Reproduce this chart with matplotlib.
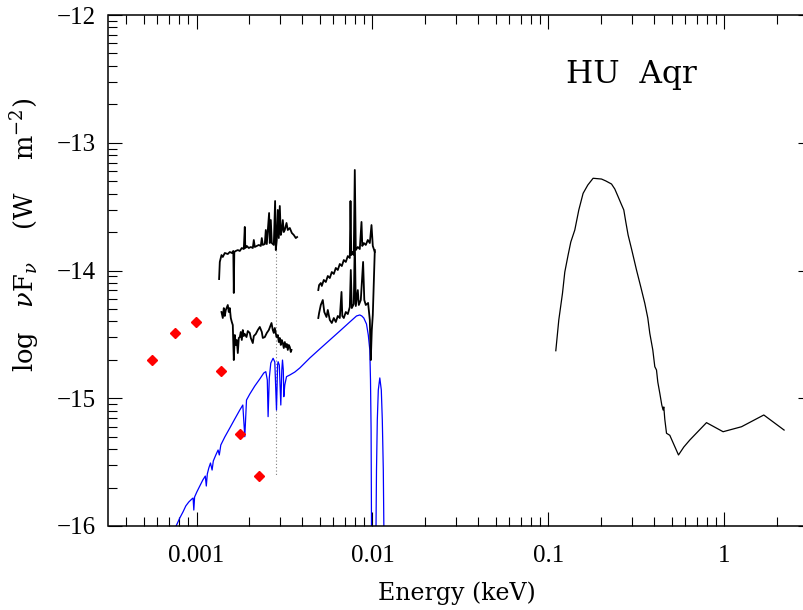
import numpy as np
import matplotlib.pyplot as plt
from matplotlib.ticker import FixedLocator, NullFormatter

plt.rcParams['font.family'] = 'Liberation Serif'
plt.rcParams['mathtext.fontset'] = 'dejavuserif'

# optical photometry (red diamonds): energy in keV, log nuFnu
phot_E = [5.62e-4, 7.53e-4, 9.91e-4, 1.380e-3, 1.769e-3, 2.26e-3]
phot_F = [-14.70, -14.49, -14.40, -14.79, -15.28, -15.61]

# optical spectrum, bright state (log10 E, log nuFnu)
opt_hi_logE = [-2.8716, -2.8676, -2.8580, -2.8506, -2.8392, -2.8222, -2.8108, -2.7994, -2.7909,
               -2.7881, -2.7852, -2.7767, -2.7653, -2.7540, -2.7426, -2.7313, -2.7256, -2.7227,
               -2.7142, -2.7028, -2.6915, -2.6801, -2.6744, -2.6688, -2.6574, -2.6460, -2.6347,
               -2.6290, -2.6233, -2.6119, -2.6063, -2.6006, -2.5875, -2.5835, -2.5778, -2.5722,
               -2.5608, -2.5534, -2.5494, -2.5438, -2.5381, -2.5324, -2.5267, -2.5210, -2.5153,
               -2.5097, -2.5040, -2.4983, -2.4886, -2.4813, -2.4699, -2.4585, -2.4472, -2.4358,
               -2.4284]
opt_hi_F = [-14.067, -13.933, -13.879, -13.894, -13.863, -13.871, -13.855, -13.863, -13.847,
            -14.176, -13.855, -13.847, -13.840, -13.847, -13.824, -13.832, -13.659, -13.824,
            -13.808, -13.824, -13.816, -13.824, -13.761, -13.816, -13.808, -13.800, -13.808,
            -13.746, -13.800, -13.793, -13.683, -13.793, -13.550, -13.785, -13.605, -13.785,
            -13.800, -13.456, -13.840, -13.761, -13.526, -13.746, -13.495, -13.722, -13.683,
            -13.605, -13.699, -13.683, -13.628, -13.683, -13.667, -13.706, -13.722, -13.746,
            -13.738]

# optical spectrum, faint state
opt_lo_logE = [-2.8580, -2.8506, -2.8449, -2.8392, -2.8335, -2.8222, -2.8165, -2.8108, -2.8051,
               -2.7994, -2.7938, -2.7881, -2.7824, -2.7767, -2.7710, -2.7653, -2.7597, -2.7540,
               -2.7483, -2.7426, -2.7369, -2.7313, -2.7256, -2.7159, -2.7085, -2.6972, -2.6915,
               -2.6801, -2.6744, -2.6631, -2.6517, -2.6403, -2.6290, -2.6233, -2.6119, -2.6006,
               -2.5892, -2.5739, -2.5665, -2.5608, -2.5551, -2.5455, -2.5381, -2.5324, -2.5267,
               -2.5210, -2.5153, -2.5097, -2.5040, -2.4983, -2.4926, -2.4869, -2.4813, -2.4756,
               -2.4699, -2.4642, -2.4602]
opt_lo_F = [-14.325, -14.372, -14.294, -14.356, -14.309, -14.270, -14.325, -14.294, -14.372,
            -14.403, -14.427, -14.701, -14.505, -14.583, -14.544, -14.646, -14.528, -14.521,
            -14.481, -14.544, -14.466, -14.513, -14.497, -14.521, -14.474, -14.489, -14.528,
            -14.568, -14.513, -14.497, -14.466, -14.442, -14.481, -14.528, -14.521, -14.489,
            -14.466, -14.411, -14.466, -14.489, -14.450, -14.521, -14.505, -14.560, -14.528,
            -14.583, -14.544, -14.568, -14.607, -14.560, -14.599, -14.575, -14.622, -14.583,
            -14.599, -14.638, -14.622]

# gap marker between the two optical arms
gap_logE = [-2.5494, -2.5494]
gap_F = [-13.84, -15.60]

# UV spectrum, bright state
uv_hi_logE = [-2.3080, -2.3034, -2.2938, -2.2881, -2.2767, -2.2653, -2.2540, -2.2426, -2.2313,
              -2.2199, -2.2085, -2.1972, -2.1858, -2.1744, -2.1631, -2.1517, -2.1403, -2.1290,
              -2.1250, -2.1205, -2.1119, -2.1063, -2.1006, -2.0949, -2.0835, -2.0722, -2.0625,
              -2.0580, -2.0494, -2.0381, -2.0267, -2.0153, -2.0057, -1.9983, -1.9869]
uv_hi_F = [-14.153, -14.114, -14.098, -14.121, -14.074, -14.090, -14.043, -14.059, -14.012,
           -14.027, -13.980, -13.996, -13.949, -13.965, -13.918, -13.933, -13.887, -13.902,
           -13.456, -13.879, -13.855, -13.879, -13.213, -13.840, -13.816, -13.832, -13.620,
           -13.808, -13.785, -13.800, -13.761, -13.785, -13.644, -13.808, -13.855]

# UV spectrum, faint state
uv_lo_logE = [-2.3080, -2.3034, -2.2938, -2.2824, -2.2739, -2.2614, -2.2540, -2.2426, -2.2313,
              -2.2199, -2.2085, -2.1972, -2.1858, -2.1761, -2.1716, -2.1631, -2.1517, -2.1403,
              -2.1290, -2.1233, -2.1176, -2.1063, -2.1006, -2.0949, -2.0835, -2.0778, -2.0665,
              -2.0534, -2.0466, -2.0381, -2.0250, -2.0153, -2.0097, -2.0040, -1.9983, -1.9869]
uv_lo_F = [-14.372, -14.333, -14.270, -14.231, -14.325, -14.364, -14.309, -14.387, -14.411,
           -14.372, -14.403, -14.356, -14.372, -14.168, -14.356, -14.372, -14.325, -14.341,
           -14.286, -13.996, -14.294, -14.262, -13.761, -14.278, -14.153, -14.270, -14.231,
           -13.933, -14.231, -14.270, -14.254, -14.387, -14.701, -14.466, -14.348, -13.840]

# white dwarf model (blue)
wd_logE = [-3.1290, -3.1176, -3.0949, -3.0761, -3.0608, -3.0438, -3.0267, -3.0193, -3.0153,
           -3.0108, -2.9983, -2.9813, -2.9642, -2.9500, -2.9443, -2.9386, -2.9301, -2.9205,
           -2.9114, -2.9045, -2.8903, -2.8773, -2.8705, -2.8619, -2.8392, -2.8108, -2.7824,
           -2.7540, -2.7369, -2.7256, -2.7159, -2.6972, -2.6688, -2.6403, -2.6176, -2.6063,
           -2.5977, -2.5932, -2.5864, -2.5778, -2.5648, -2.5551, -2.5455, -2.5392, -2.5364,
           -2.5295, -2.5210, -2.5153, -2.5114, -2.5068, -2.5040, -2.4983, -2.4886, -2.4699,
           -2.4415, -2.4131, -2.3563, -2.2994, -2.2426, -2.1858, -2.1290, -2.0909, -2.0722,
           -2.0608, -2.0494, -2.0341, -2.0239, -2.0153, -2.0114, -2.0080, -2.0051, -1.9812,
           -1.9773, -1.9727, -1.9670, -1.9585, -1.9500, -1.9443, -1.9386, -1.9341]
wd_F = [-16.047, -16.005, -15.937, -15.888, -15.843, -15.812, -15.789, -15.781, -15.875,
        -15.773, -15.734, -15.687, -15.640, -15.609, -15.687, -15.593, -15.546, -15.507,
        -15.562, -15.491, -15.444, -15.405, -15.444, -15.366, -15.303, -15.233, -15.162,
        -15.092, -15.053, -15.301, -15.014, -14.967, -14.904, -14.849, -14.802, -14.792,
        -14.857, -15.144, -14.841, -14.724, -14.687, -14.716, -15.092, -14.740, -14.714,
        -14.740, -15.053, -14.779, -14.701, -14.779, -14.988, -14.896, -14.831, -14.818,
        -14.795, -14.763, -14.685, -14.614, -14.544, -14.474, -14.403, -14.356, -14.348,
        -14.356, -14.372, -14.419, -14.505, -14.622, -14.857, -15.249, -16.2, -16.2,
        -15.562, -15.170, -14.935, -14.841, -14.935, -15.170, -15.562, -16.2]

# X-ray / EUV spectrum
xr_logE = [-0.9585, -0.9415, -0.9205, -0.9074, -0.8886, -0.8733, -0.8506, -0.8278, -0.8034,
           -0.7767, -0.7466, -0.6989, -0.6744, -0.6420, -0.6233, -0.6045, -0.5892, -0.5722,
           -0.5608, -0.5477, -0.5267, -0.5000, -0.4756, -0.4528, -0.4358, -0.4244, -0.4074,
           -0.3960, -0.3864, -0.3790, -0.3676, -0.3563, -0.3489, -0.3449, -0.3392, -0.3295,
           -0.3108, -0.2614, -0.2313, -0.1972, -0.1023, -0.0080, 0.0966, 0.2233, 0.3386]
xr_F = [-14.628, -14.387, -14.178, -14.012, -13.879, -13.777, -13.683, -13.526, -13.396,
        -13.331, -13.278, -13.284, -13.299, -13.323, -13.362, -13.422, -13.472, -13.526,
        -13.620, -13.722, -13.840, -13.996, -14.129, -14.257, -14.372, -14.492, -14.622,
        -14.753, -14.779, -14.873, -14.961, -15.053, -15.092, -15.068, -15.165, -15.274,
        -15.290, -15.444, -15.382, -15.327, -15.191, -15.262, -15.223, -15.131, -15.249]

xticks = [1e-3, 1e-2, 1e-1, 1.0]
xtick_labels = ['0.001', '0.01', '0.1', '1']
yticks = [-16, -15, -14, -13, -12]
ytick_labels = ['\u221216', '\u221215', '\u221214', '\u221213', '\u221212']

W, H = 804, 610
fig = plt.figure(figsize=(W / 100, H / 100), dpi=100)
# right edge of the frame falls just outside the picture, as in the original
ax = fig.add_axes([108.5 / W, 84 / H, 704 / W, 511 / H])

ax.plot(10 ** np.array(gap_logE), gap_F, color='0.5', lw=0.8, ls=(0, (1, 2)))
ax.plot(10 ** np.array(wd_logE), wd_F, color='#0000ff', lw=0.9)
for le, f in [(opt_hi_logE, opt_hi_F), (opt_lo_logE, opt_lo_F),
              (uv_hi_logE, uv_hi_F), (uv_lo_logE, uv_lo_F)]:
    ax.plot(10 ** np.array(le), f, color='black', lw=1.3)
ax.plot(10 ** np.array(xr_logE), xr_F, color='black', lw=0.9)
ax.plot(phot_E, phot_F, ls='none', marker='D', ms=5.5, color='#ff0000', mec='#ff0000')

ax.set_xscale('log')
ax.set_xlim(10 ** -3.5, 10 ** 0.5)
ax.set_ylim(-16, -12)

ax.set_xticks(xticks, labels=xtick_labels)
ax.xaxis.set_minor_locator(FixedLocator([k * 10.0 ** d for d in range(-4, 1) for k in range(2, 10)]))
ax.xaxis.set_minor_formatter(NullFormatter())
ax.set_yticks(yticks, labels=ytick_labels)
ax.yaxis.set_minor_locator(FixedLocator([n + np.log10(k) for n in range(-17, -12) for k in range(2, 10)]))

for s in ax.spines.values():
    s.set_linewidth(1.1)
ax.tick_params(which='both', direction='in', top=True, right=True, width=0.8, labelsize=18)
ax.tick_params(which='major', length=10)
ax.tick_params(which='minor', length=6.5)
ax.tick_params(axis='x', pad=14)
ax.tick_params(axis='y', pad=9)

fig.text(457 / W, 1 - 600 / H, 'Energy (keV)', family='DejaVu Serif', fontsize=17,
         ha='center', va='baseline')
fig.text(25 / W, 1 - 235 / H, r'log   $\nu$F$_\nu$    (W    m$^{-2}$)', family='DejaVu Serif',
         fontsize=18.5, rotation=90, ha='center', va='center')
fig.text(566 / W, 1 - 83 / H, 'HU  Aqr', family='DejaVu Serif', fontsize=22.5,
         ha='left', va='baseline')

fig.savefig('out.png', dpi=100)
